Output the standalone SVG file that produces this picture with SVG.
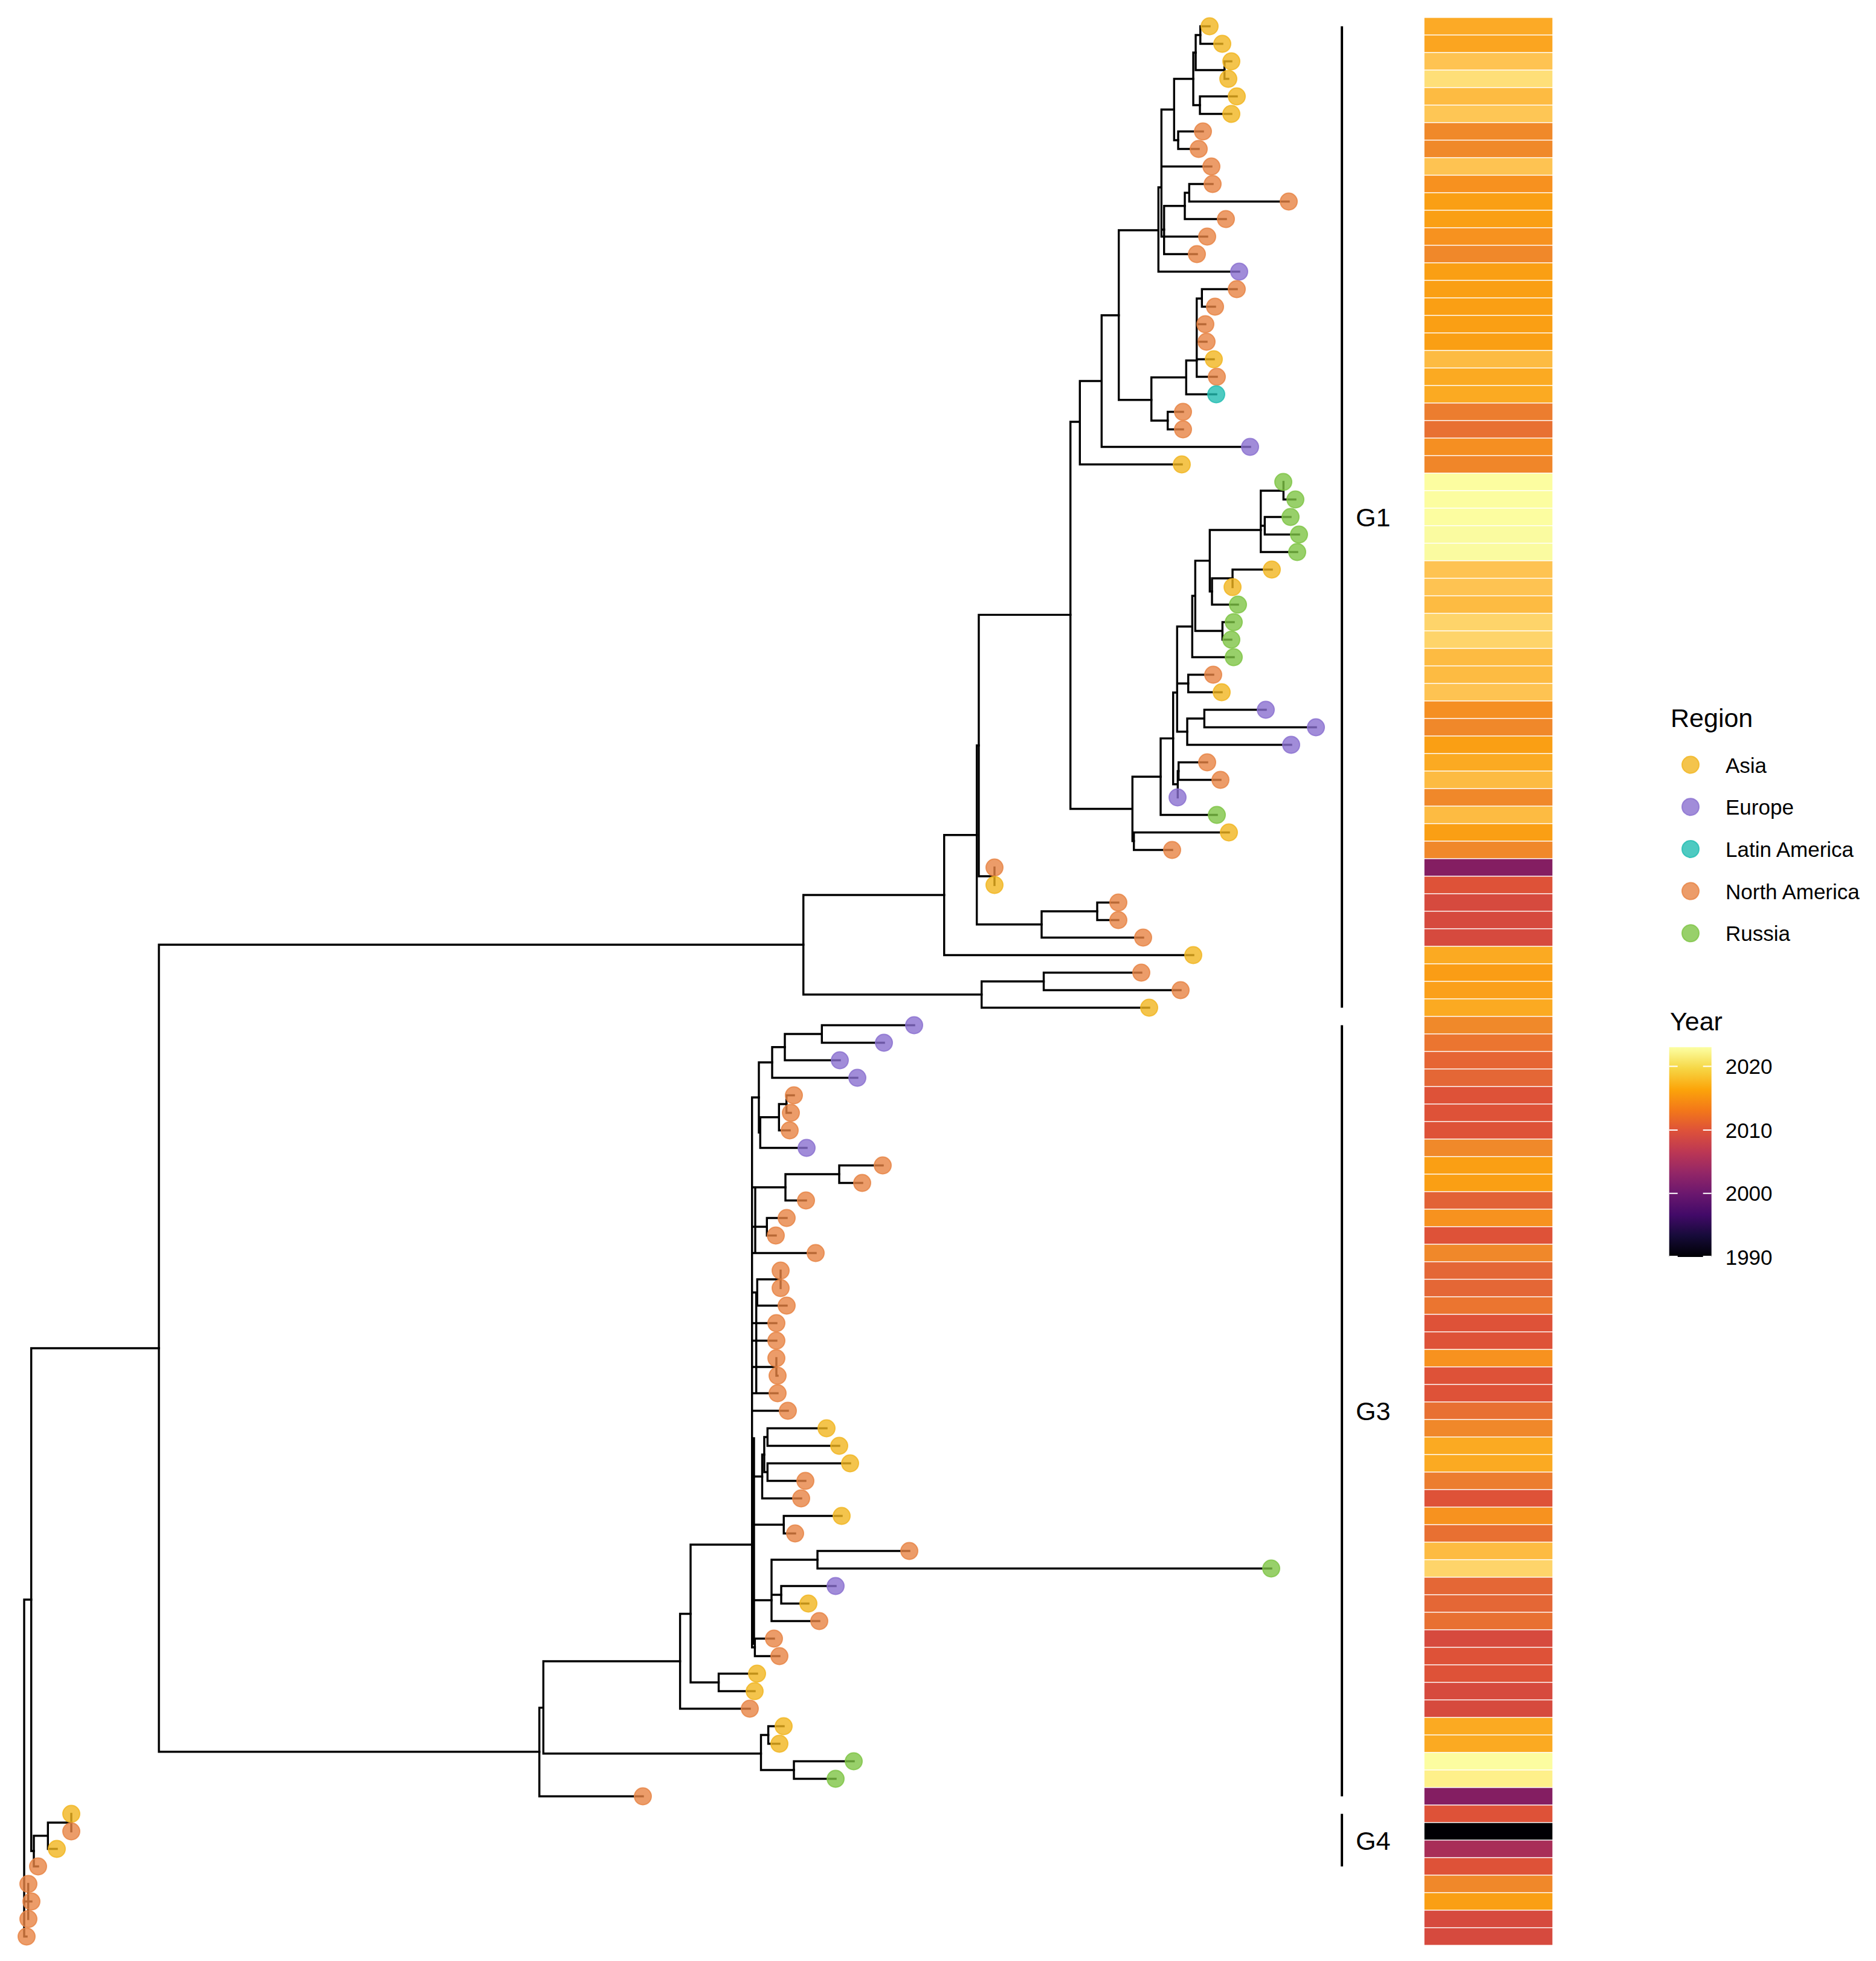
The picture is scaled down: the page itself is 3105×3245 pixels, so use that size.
<svg xmlns="http://www.w3.org/2000/svg" width="3105" height="3245" viewBox="0 0 3105 3245">
<style>
.br{fill:none;stroke:#000;stroke-width:3.4;stroke-linecap:square;stroke-linejoin:miter}
.tp{stroke-width:2;fill-opacity:0.8;stroke-opacity:0.8}
.as{fill:#F1B51F;stroke:#F1B51F}
.eu{fill:#8A6FD0;stroke:#8A6FD0}
.la{fill:#22BDB2;stroke:#22BDB2}
.na{fill:#E78343;stroke:#E78343}
.ru{fill:#7EC445;stroke:#7EC445}
.hm rect{stroke:#fff;stroke-width:1.2}
.bar{stroke:#000;stroke-width:4}
.lab{font-family:"Liberation Sans",Arial,sans-serif;fill:#000}
.tick{stroke:#fff;stroke-width:2}
</style>
<defs>
<linearGradient id="inferno" x1="0" y1="1" x2="0" y2="0">
<stop offset="0" stop-color="#000004"/>
<stop offset="0.1" stop-color="#160B39"/>
<stop offset="0.2" stop-color="#420A68"/>
<stop offset="0.3" stop-color="#6A176E"/>
<stop offset="0.4" stop-color="#932667"/>
<stop offset="0.5" stop-color="#BC3754"/>
<stop offset="0.6" stop-color="#DD513A"/>
<stop offset="0.7" stop-color="#F37819"/>
<stop offset="0.8" stop-color="#FCA50A"/>
<stop offset="0.9" stop-color="#F6D746"/>
<stop offset="1" stop-color="#FCFFA4"/>
</linearGradient>
</defs>
<rect width="3105" height="3245" fill="#fff"/>
<g id="connectors" class="br">
<path d="M51.7,2647H40V3204.5H44M40,3146.5H46.7"/>
<path d="M263,2231H51.7V3063H56"/>
<path d="M79.3,3037.75H56V3088.5H63"/>
<path d="M118,3016H79.3V3059.5H94"/>
<path d="M118,3001.5V3030.5"/>
<path d="M46.7,3117.5V3175.5M46.7,3146.5H52"/>
<path d="M1329.7,1563.3H263V2898.75H892.7"/>
<path d="M1562.7,1481H1329.7V1645.75H1624.7"/>
<path d="M1727.5,1624H1624.7V1667.5H1902"/>
<path d="M1889,1609.5H1727.5V1638.5H1954"/>
<path d="M1616.7,1381.75H1562.7V1580.5H1975"/>
<path d="M1620,1233.5H1616.7V1529.75H1724"/>
<path d="M1816,1508H1724V1551.5H1892"/>
<path d="M1851,1493.5H1816V1522.5H1851"/>
<path d="M1771.7,1017.4H1620V1450H1646"/>
<path d="M1646,1435.5V1464.5"/>
<path d="M1787.3,698H1771.7V1338.5H1874.3"/>
<path d="M1823.3,630.5H1787.3V768.5H1956"/>
<path d="M1851.7,521.75H1823.3V739.5H2069"/>
<path d="M1917.3,381H1851.7V661.75H1905.7"/>
<path d="M1963.3,624.5H1905.7V696H1932.7"/>
<path d="M1958,681.5H1932.7V710.5H1958"/>
<path d="M1980.7,596.5H1963.3V652.5H2013"/>
<path d="M1989.3,494H1980.7V623.5H2014M1980.7,536.5H1995M1980.7,565.5H1997M1980.7,594.5H2009"/>
<path d="M2047,478.5H1989.3V507.5H2011"/>
<path d="M1922.3,310H1917.3V449.5H2051"/>
<path d="M1943.3,181.25H1922.3V391.5H1998M1922.3,275.5H2005M1922.3,380H1926.7"/>
<path d="M1961,340.75H1926.7V420.5H1981"/>
<path d="M1968.3,319H1961V362.5H2029"/>
<path d="M2007,304.5H1968.3V333.5H2133"/>
<path d="M1975,130.5H1943.3V232H1950"/>
<path d="M1991,217.5H1950V246.5H1984"/>
<path d="M1979,87H1975V174H1986"/>
<path d="M2047,159.5H1986V188.5H2038"/>
<path d="M1986.7,58H1979V116H2026.7"/>
<path d="M2002,43.5H1986.7V72.5H2023"/>
<path d="M2038,101.5H2026.7V130.5H2033"/>
<path d="M1921,1285.2H1874.3V1391.75H1876.7"/>
<path d="M2034,1377.5H1876.7V1406.5H1940"/>
<path d="M1941.7,1221.9H1921V1348.5H2014"/>
<path d="M1948.3,1146H1941.7V1297.75H1949.3"/>
<path d="M1950.7,1276H1949.3V1319.5"/>
<path d="M1998,1261.5H1950.7V1290.5H2020"/>
<path d="M1973.3,1036.75H1948.3V1210.75H1965M1948.3,1131H1966.7"/>
<path d="M1993.3,1189H1965V1232.5H2137"/>
<path d="M2095,1174.5H1993.3V1203.5H2178"/>
<path d="M2008,1116.5H1966.7V1145.5H2022"/>
<path d="M1978.3,986H1973.3V1087.5H2042"/>
<path d="M2002.3,927.9H1978.3V1044H2023.3"/>
<path d="M2042,1029.5H2023.3V1058.5H2038"/>
<path d="M2086.7,877H2002.3V978.75H2006"/>
<path d="M2040,957H2006V1000.5H2049"/>
<path d="M2105,942.5H2040V971.5"/>
<path d="M2124.3,812H2086.7V913.5H2147M2086.7,870H2093.3"/>
<path d="M2136,855.5H2093.3V884.5H2150"/>
<path d="M2124.3,797.5V826.5H2144"/>
<path d="M899.3,2825.9H892.7V2972.5H1064"/>
<path d="M1125.6,2749H899.3V2901.7H1259.5"/>
<path d="M1271.6,2871H1259.5V2929H1314"/>
<path d="M1297,2856.5H1271.6V2885.5H1290"/>
<path d="M1413,2914.5H1314V2943.5H1383"/>
<path d="M1143,2670.5H1125.6V2827.5H1241"/>
<path d="M1244.7,2556H1143V2784H1189.5"/>
<path d="M1253,2769.5H1189.5V2798.5H1249"/>
<path d="M1256,1816H1244.7V2726H1249.4M1244.7,1964.75H1300M1244.7,2030H1269.3M1244.7,2073.5H1350M1244.7,2138.75H1253.3M1244.7,2189.5H1285M1244.7,2218.5H1285M1244.7,2262H1285M1244.7,2305.5H1287M1244.7,2334.5H1304M1244.7,2443.25H1261.5M1244.7,2523H1297.2M1244.7,2648H1277M1250,1964.75V2073.5M1251.7,2138.75V2305.5M1248,2380V2720"/>
<path d="M1278,1758H1256V1874H1258.3"/>
<path d="M1299,1732.75H1278V1783.5H1419"/>
<path d="M1360.3,1711H1299V1754.5H1390"/>
<path d="M1513,1696.5H1360.3V1725.5H1463"/>
<path d="M1289.3,1848.75H1258.3V1899.5H1335"/>
<path d="M1301.7,1827H1289.3V1870.5H1307"/>
<path d="M1314,1812.5H1301.7V1841.5H1309"/>
<path d="M1389,1943H1300V1986.5H1334"/>
<path d="M1461,1928.5H1389V1957.5H1427"/>
<path d="M1302,2015.5H1269.3V2044.5H1284"/>
<path d="M1292,2117H1253.3V2160.5H1302"/>
<path d="M1292,2102.5V2131.5"/>
<path d="M1285,2247.5V2276.5H1287"/>
<path d="M1264.9,2407H1261.5V2479.5H1326"/>
<path d="M1270.3,2378H1264.9V2436H1270.3"/>
<path d="M1368,2363.5H1270.3V2392.5H1389"/>
<path d="M1407,2421.5H1270.3V2450.5H1333"/>
<path d="M1393,2508.5H1297.2V2537.5H1316"/>
<path d="M1353,2581H1277V2682.5H1356M1277,2639H1293"/>
<path d="M1505,2566.5H1353V2595.5H2104"/>
<path d="M1383,2624.5H1293V2653.5H1338"/>
<path d="M1281,2711.5H1249.4V2740.5H1290"/>
</g>
<g id="tips" class="tp">
<g id="tip-0"><circle class="as" cx="2002" cy="43.5" r="14"/></g>
<g id="tip-1"><circle class="as" cx="2023" cy="72.5" r="14"/></g>
<g id="tip-2"><circle class="as" cx="2038" cy="101.5" r="14"/></g>
<g id="tip-3"><circle class="as" cx="2033" cy="130.5" r="14"/></g>
<g id="tip-4"><circle class="as" cx="2047" cy="159.5" r="14"/></g>
<g id="tip-5"><circle class="as" cx="2038" cy="188.5" r="14"/></g>
<g id="tip-6"><circle class="na" cx="1991" cy="217.5" r="14"/></g>
<g id="tip-7"><circle class="na" cx="1984" cy="246.5" r="14"/></g>
<g id="tip-8"><circle class="na" cx="2005" cy="275.5" r="14"/></g>
<g id="tip-9"><circle class="na" cx="2007" cy="304.5" r="14"/></g>
<g id="tip-10"><circle class="na" cx="2133" cy="333.5" r="14"/></g>
<g id="tip-11"><circle class="na" cx="2029" cy="362.5" r="14"/></g>
<g id="tip-12"><circle class="na" cx="1998" cy="391.5" r="14"/></g>
<g id="tip-13"><circle class="na" cx="1981" cy="420.5" r="14"/></g>
<g id="tip-14"><circle class="eu" cx="2051" cy="449.5" r="14"/></g>
<g id="tip-15"><circle class="na" cx="2047" cy="478.5" r="14"/></g>
<g id="tip-16"><circle class="na" cx="2011" cy="507.5" r="14"/></g>
<g id="tip-17"><circle class="na" cx="1995" cy="536.5" r="14"/></g>
<g id="tip-18"><circle class="na" cx="1997" cy="565.5" r="14"/></g>
<g id="tip-19"><circle class="as" cx="2009" cy="594.5" r="14"/></g>
<g id="tip-20"><circle class="na" cx="2014" cy="623.5" r="14"/></g>
<g id="tip-21"><circle class="la" cx="2013" cy="652.5" r="14"/></g>
<g id="tip-22"><circle class="na" cx="1958" cy="681.5" r="14"/></g>
<g id="tip-23"><circle class="na" cx="1958" cy="710.5" r="14"/></g>
<g id="tip-24"><circle class="eu" cx="2069" cy="739.5" r="14"/></g>
<g id="tip-25"><circle class="as" cx="1956" cy="768.5" r="14"/></g>
<g id="tip-26"><circle class="ru" cx="2124" cy="797.5" r="14"/></g>
<g id="tip-27"><circle class="ru" cx="2144" cy="826.5" r="14"/></g>
<g id="tip-28"><circle class="ru" cx="2136" cy="855.5" r="14"/></g>
<g id="tip-29"><circle class="ru" cx="2150" cy="884.5" r="14"/></g>
<g id="tip-30"><circle class="ru" cx="2147" cy="913.5" r="14"/></g>
<g id="tip-31"><circle class="as" cx="2105" cy="942.5" r="14"/></g>
<g id="tip-32"><circle class="as" cx="2040" cy="971.5" r="14"/></g>
<g id="tip-33"><circle class="ru" cx="2049" cy="1000.5" r="14"/></g>
<g id="tip-34"><circle class="ru" cx="2042" cy="1029.5" r="14"/></g>
<g id="tip-35"><circle class="ru" cx="2038" cy="1058.5" r="14"/></g>
<g id="tip-36"><circle class="ru" cx="2042" cy="1087.5" r="14"/></g>
<g id="tip-37"><circle class="na" cx="2008" cy="1116.5" r="14"/></g>
<g id="tip-38"><circle class="as" cx="2022" cy="1145.5" r="14"/></g>
<g id="tip-39"><circle class="eu" cx="2095" cy="1174.5" r="14"/></g>
<g id="tip-40"><circle class="eu" cx="2178" cy="1203.5" r="14"/></g>
<g id="tip-41"><circle class="eu" cx="2137" cy="1232.5" r="14"/></g>
<g id="tip-42"><circle class="na" cx="1998" cy="1261.5" r="14"/></g>
<g id="tip-43"><circle class="na" cx="2020" cy="1290.5" r="14"/></g>
<g id="tip-44"><circle class="eu" cx="1949" cy="1319.5" r="14"/></g>
<g id="tip-45"><circle class="ru" cx="2014" cy="1348.5" r="14"/></g>
<g id="tip-46"><circle class="as" cx="2034" cy="1377.5" r="14"/></g>
<g id="tip-47"><circle class="na" cx="1940" cy="1406.5" r="14"/></g>
<g id="tip-48"><circle class="na" cx="1646" cy="1435.5" r="14"/></g>
<g id="tip-49"><circle class="as" cx="1646" cy="1464.5" r="14"/></g>
<g id="tip-50"><circle class="na" cx="1851" cy="1493.5" r="14"/></g>
<g id="tip-51"><circle class="na" cx="1851" cy="1522.5" r="14"/></g>
<g id="tip-52"><circle class="na" cx="1892" cy="1551.5" r="14"/></g>
<g id="tip-53"><circle class="as" cx="1975" cy="1580.5" r="14"/></g>
<g id="tip-54"><circle class="na" cx="1889" cy="1609.5" r="14"/></g>
<g id="tip-55"><circle class="na" cx="1954" cy="1638.5" r="14"/></g>
<g id="tip-56"><circle class="as" cx="1902" cy="1667.5" r="14"/></g>
<g id="tip-57"><circle class="eu" cx="1513" cy="1696.5" r="14"/></g>
<g id="tip-58"><circle class="eu" cx="1463" cy="1725.5" r="14"/></g>
<g id="tip-59"><circle class="eu" cx="1390" cy="1754.5" r="14"/></g>
<g id="tip-60"><circle class="eu" cx="1419" cy="1783.5" r="14"/></g>
<g id="tip-61"><circle class="na" cx="1314" cy="1812.5" r="14"/></g>
<g id="tip-62"><circle class="na" cx="1309" cy="1841.5" r="14"/></g>
<g id="tip-63"><circle class="na" cx="1307" cy="1870.5" r="14"/></g>
<g id="tip-64"><circle class="eu" cx="1335" cy="1899.5" r="14"/></g>
<g id="tip-65"><circle class="na" cx="1461" cy="1928.5" r="14"/></g>
<g id="tip-66"><circle class="na" cx="1427" cy="1957.5" r="14"/></g>
<g id="tip-67"><circle class="na" cx="1334" cy="1986.5" r="14"/></g>
<g id="tip-68"><circle class="na" cx="1302" cy="2015.5" r="14"/></g>
<g id="tip-69"><circle class="na" cx="1284" cy="2044.5" r="14"/></g>
<g id="tip-70"><circle class="na" cx="1350" cy="2073.5" r="14"/></g>
<g id="tip-71"><circle class="na" cx="1292" cy="2102.5" r="14"/></g>
<g id="tip-72"><circle class="na" cx="1292" cy="2131.5" r="14"/></g>
<g id="tip-73"><circle class="na" cx="1302" cy="2160.5" r="14"/></g>
<g id="tip-74"><circle class="na" cx="1285" cy="2189.5" r="14"/></g>
<g id="tip-75"><circle class="na" cx="1285" cy="2218.5" r="14"/></g>
<g id="tip-76"><circle class="na" cx="1285" cy="2247.5" r="14"/></g>
<g id="tip-77"><circle class="na" cx="1287" cy="2276.5" r="14"/></g>
<g id="tip-78"><circle class="na" cx="1287" cy="2305.5" r="14"/></g>
<g id="tip-79"><circle class="na" cx="1304" cy="2334.5" r="14"/></g>
<g id="tip-80"><circle class="as" cx="1368" cy="2363.5" r="14"/></g>
<g id="tip-81"><circle class="as" cx="1389" cy="2392.5" r="14"/></g>
<g id="tip-82"><circle class="as" cx="1407" cy="2421.5" r="14"/></g>
<g id="tip-83"><circle class="na" cx="1333" cy="2450.5" r="14"/></g>
<g id="tip-84"><circle class="na" cx="1326" cy="2479.5" r="14"/></g>
<g id="tip-85"><circle class="as" cx="1393" cy="2508.5" r="14"/></g>
<g id="tip-86"><circle class="na" cx="1316" cy="2537.5" r="14"/></g>
<g id="tip-87"><circle class="na" cx="1505" cy="2566.5" r="14"/></g>
<g id="tip-88"><circle class="ru" cx="2104" cy="2595.5" r="14"/></g>
<g id="tip-89"><circle class="eu" cx="1383" cy="2624.5" r="14"/></g>
<g id="tip-90"><circle class="as" cx="1338" cy="2653.5" r="14"/></g>
<g id="tip-91"><circle class="na" cx="1356" cy="2682.5" r="14"/></g>
<g id="tip-92"><circle class="na" cx="1281" cy="2711.5" r="14"/></g>
<g id="tip-93"><circle class="na" cx="1290" cy="2740.5" r="14"/></g>
<g id="tip-94"><circle class="as" cx="1253" cy="2769.5" r="14"/></g>
<g id="tip-95"><circle class="as" cx="1249" cy="2798.5" r="14"/></g>
<g id="tip-96"><circle class="na" cx="1241" cy="2827.5" r="14"/></g>
<g id="tip-97"><circle class="as" cx="1297" cy="2856.5" r="14"/></g>
<g id="tip-98"><circle class="as" cx="1290" cy="2885.5" r="14"/></g>
<g id="tip-99"><circle class="ru" cx="1413" cy="2914.5" r="14"/></g>
<g id="tip-100"><circle class="ru" cx="1383" cy="2943.5" r="14"/></g>
<g id="tip-101"><circle class="na" cx="1064" cy="2972.5" r="14"/></g>
<g id="tip-102"><circle class="as" cx="118" cy="3001.5" r="14"/></g>
<g id="tip-103"><circle class="na" cx="118" cy="3030.5" r="14"/></g>
<g id="tip-104"><circle class="as" cx="94" cy="3059.5" r="14"/></g>
<g id="tip-105"><circle class="na" cx="63" cy="3088.5" r="14"/></g>
<g id="tip-106"><circle class="na" cx="47" cy="3117.5" r="14"/></g>
<g id="tip-107"><circle class="na" cx="52" cy="3146.5" r="14"/></g>
<g id="tip-108"><circle class="na" cx="47" cy="3175.5" r="14"/></g>
<g id="tip-109"><circle class="na" cx="44" cy="3204.5" r="14"/></g>
</g>
<g id="clades">
<line class="bar" x1="2221" y1="43.5" x2="2221" y2="1667.5"/>
<line class="bar" x1="2221" y1="1696.5" x2="2221" y2="2972.5"/>
<line class="bar" x1="2221" y1="3001.5" x2="2221" y2="3088.5"/>
<text class="lab" x="2244" y="871" font-size="43">G1</text>
<text class="lab" x="2244" y="2350" font-size="43">G3</text>
<text class="lab" x="2244" y="3061" font-size="43">G4</text>
</g>
<g id="heatmap" class="hm">
<rect x="2357" y="29" width="213" height="29" fill="#FCAA26"/>
<rect x="2357" y="58" width="213" height="29" fill="#FBA520"/>
<rect x="2357" y="87" width="213" height="29" fill="#FEC352"/>
<rect x="2357" y="116" width="213" height="29" fill="#FEDF78"/>
<rect x="2357" y="145" width="213" height="29" fill="#FDBB42"/>
<rect x="2357" y="174" width="213" height="29" fill="#FEC655"/>
<rect x="2357" y="203" width="213" height="29" fill="#F0892A"/>
<rect x="2357" y="232" width="213" height="29" fill="#F0892A"/>
<rect x="2357" y="261" width="213" height="29" fill="#FEC352"/>
<rect x="2357" y="290" width="213" height="29" fill="#F7911F"/>
<rect x="2357" y="319" width="213" height="29" fill="#FA9F14"/>
<rect x="2357" y="348" width="213" height="29" fill="#FA9F14"/>
<rect x="2357" y="377" width="213" height="29" fill="#F7921F"/>
<rect x="2357" y="406" width="213" height="29" fill="#F0882A"/>
<rect x="2357" y="435" width="213" height="29" fill="#FA9F14"/>
<rect x="2357" y="464" width="213" height="29" fill="#FA9F14"/>
<rect x="2357" y="493" width="213" height="29" fill="#FA9F14"/>
<rect x="2357" y="522" width="213" height="29" fill="#FA9F14"/>
<rect x="2357" y="551" width="213" height="29" fill="#FA9F14"/>
<rect x="2357" y="580" width="213" height="29" fill="#FDBB42"/>
<rect x="2357" y="609" width="213" height="29" fill="#FBAA22"/>
<rect x="2357" y="638" width="213" height="29" fill="#FBAA22"/>
<rect x="2357" y="667" width="213" height="29" fill="#EC7D2F"/>
<rect x="2357" y="696" width="213" height="29" fill="#E87032"/>
<rect x="2357" y="725" width="213" height="29" fill="#F58F22"/>
<rect x="2357" y="754" width="213" height="29" fill="#F08629"/>
<rect x="2357" y="783" width="213" height="29" fill="#FCFDA0"/>
<rect x="2357" y="812" width="213" height="29" fill="#FCFDA0"/>
<rect x="2357" y="841" width="213" height="29" fill="#FCFDA0"/>
<rect x="2357" y="870" width="213" height="29" fill="#FAFBA0"/>
<rect x="2357" y="899" width="213" height="29" fill="#FAFBA0"/>
<rect x="2357" y="928" width="213" height="29" fill="#FEC352"/>
<rect x="2357" y="957" width="213" height="29" fill="#FEC352"/>
<rect x="2357" y="986" width="213" height="29" fill="#FDBB42"/>
<rect x="2357" y="1015" width="213" height="29" fill="#FED46A"/>
<rect x="2357" y="1044" width="213" height="29" fill="#FED46A"/>
<rect x="2357" y="1073" width="213" height="29" fill="#FDBB42"/>
<rect x="2357" y="1102" width="213" height="29" fill="#FDBB42"/>
<rect x="2357" y="1131" width="213" height="29" fill="#FEC352"/>
<rect x="2357" y="1160" width="213" height="29" fill="#F58F22"/>
<rect x="2357" y="1189" width="213" height="29" fill="#F0882A"/>
<rect x="2357" y="1218" width="213" height="29" fill="#FA9F14"/>
<rect x="2357" y="1247" width="213" height="29" fill="#FBAA22"/>
<rect x="2357" y="1276" width="213" height="29" fill="#FDBB42"/>
<rect x="2357" y="1305" width="213" height="29" fill="#F0882A"/>
<rect x="2357" y="1334" width="213" height="29" fill="#FDBB42"/>
<rect x="2357" y="1363" width="213" height="29" fill="#FA9F14"/>
<rect x="2357" y="1392" width="213" height="29" fill="#F0882A"/>
<rect x="2357" y="1421" width="213" height="29" fill="#841E62"/>
<rect x="2357" y="1450" width="213" height="29" fill="#DE5238"/>
<rect x="2357" y="1479" width="213" height="29" fill="#D64A3E"/>
<rect x="2357" y="1508" width="213" height="29" fill="#D64A3E"/>
<rect x="2357" y="1537" width="213" height="29" fill="#D64A3E"/>
<rect x="2357" y="1566" width="213" height="29" fill="#FBAA22"/>
<rect x="2357" y="1595" width="213" height="29" fill="#FA9D15"/>
<rect x="2357" y="1624" width="213" height="29" fill="#FBA01A"/>
<rect x="2357" y="1653" width="213" height="29" fill="#FBAA22"/>
<rect x="2357" y="1682" width="213" height="29" fill="#F0892A"/>
<rect x="2357" y="1711" width="213" height="29" fill="#EB7530"/>
<rect x="2357" y="1740" width="213" height="29" fill="#E66534"/>
<rect x="2357" y="1769" width="213" height="29" fill="#E46736"/>
<rect x="2357" y="1798" width="213" height="29" fill="#DE5238"/>
<rect x="2357" y="1827" width="213" height="29" fill="#DE5238"/>
<rect x="2357" y="1856" width="213" height="29" fill="#DE5238"/>
<rect x="2357" y="1885" width="213" height="29" fill="#F0892A"/>
<rect x="2357" y="1914" width="213" height="29" fill="#FA9F14"/>
<rect x="2357" y="1943" width="213" height="29" fill="#FA9F14"/>
<rect x="2357" y="1972" width="213" height="29" fill="#E26236"/>
<rect x="2357" y="2001" width="213" height="29" fill="#F7921F"/>
<rect x="2357" y="2030" width="213" height="29" fill="#DE5238"/>
<rect x="2357" y="2059" width="213" height="29" fill="#F0882A"/>
<rect x="2357" y="2088" width="213" height="29" fill="#E46736"/>
<rect x="2357" y="2117" width="213" height="29" fill="#E46736"/>
<rect x="2357" y="2146" width="213" height="29" fill="#EB7530"/>
<rect x="2357" y="2175" width="213" height="29" fill="#DE5238"/>
<rect x="2357" y="2204" width="213" height="29" fill="#DE5238"/>
<rect x="2357" y="2233" width="213" height="29" fill="#F7921F"/>
<rect x="2357" y="2262" width="213" height="29" fill="#DE5238"/>
<rect x="2357" y="2291" width="213" height="29" fill="#DE5238"/>
<rect x="2357" y="2320" width="213" height="29" fill="#E87032"/>
<rect x="2357" y="2349" width="213" height="29" fill="#F0882A"/>
<rect x="2357" y="2378" width="213" height="29" fill="#FBAA22"/>
<rect x="2357" y="2407" width="213" height="29" fill="#FBAA22"/>
<rect x="2357" y="2436" width="213" height="29" fill="#EC7D2F"/>
<rect x="2357" y="2465" width="213" height="29" fill="#DE5238"/>
<rect x="2357" y="2494" width="213" height="29" fill="#F7921F"/>
<rect x="2357" y="2523" width="213" height="29" fill="#E87032"/>
<rect x="2357" y="2552" width="213" height="29" fill="#FDBB42"/>
<rect x="2357" y="2581" width="213" height="29" fill="#FED46A"/>
<rect x="2357" y="2610" width="213" height="29" fill="#E46736"/>
<rect x="2357" y="2639" width="213" height="29" fill="#E46736"/>
<rect x="2357" y="2668" width="213" height="29" fill="#E87032"/>
<rect x="2357" y="2697" width="213" height="29" fill="#D64A3E"/>
<rect x="2357" y="2726" width="213" height="29" fill="#DE5238"/>
<rect x="2357" y="2755" width="213" height="29" fill="#DE5238"/>
<rect x="2357" y="2784" width="213" height="29" fill="#D64A3E"/>
<rect x="2357" y="2813" width="213" height="29" fill="#D64A3E"/>
<rect x="2357" y="2842" width="213" height="29" fill="#FBAA22"/>
<rect x="2357" y="2871" width="213" height="29" fill="#FBAA22"/>
<rect x="2357" y="2900" width="213" height="29" fill="#FCFDA0"/>
<rect x="2357" y="2929" width="213" height="29" fill="#FEF08A"/>
<rect x="2357" y="2958" width="213" height="29" fill="#841E62"/>
<rect x="2357" y="2987" width="213" height="29" fill="#DE5238"/>
<rect x="2357" y="3016" width="213" height="29" fill="#000004"/>
<rect x="2357" y="3045" width="213" height="29" fill="#A82E58"/>
<rect x="2357" y="3074" width="213" height="29" fill="#DE5238"/>
<rect x="2357" y="3103" width="213" height="29" fill="#F0882A"/>
<rect x="2357" y="3132" width="213" height="29" fill="#FA9F14"/>
<rect x="2357" y="3161" width="213" height="29" fill="#D64A3E"/>
<rect x="2357" y="3190" width="213" height="29" fill="#D64A3E"/>
</g>
<g id="legend-region">
<text class="lab" x="2765" y="1203" font-size="43">Region</text>
<g class="tp">
<circle class="as" cx="2798" cy="1265.5" r="14"/>
<circle class="eu" cx="2798" cy="1335.2" r="14"/>
<circle class="la" cx="2798" cy="1404.9" r="14"/>
<circle class="na" cx="2798" cy="1474.6" r="14"/>
<circle class="ru" cx="2798" cy="1544.3" r="14"/>
</g>
<text class="lab" x="2856" y="1278.5" font-size="35">Asia</text>
<text class="lab" x="2856" y="1348.2" font-size="35">Europe</text>
<text class="lab" x="2856" y="1417.9" font-size="35">Latin America</text>
<text class="lab" x="2856" y="1487.6" font-size="35">North America</text>
<text class="lab" x="2856" y="1557.3" font-size="35">Russia</text>
</g>
<g id="legend-year">
<text class="lab" x="2764" y="1704.5" font-size="43">Year</text>
<rect x="2762.7" y="1732.8" width="70" height="347.2" fill="url(#inferno)"/>
<path class="tick" d="M2762.7,1764.6h14M2818.7,1764.6h14M2762.7,1869.9h14M2818.7,1869.9h14M2762.7,1974.7h14M2818.7,1974.7h14M2762.7,2079h14M2818.7,2079h14"/>
<text class="lab" x="2855.7" y="1777.2" font-size="35">2020</text>
<text class="lab" x="2855.7" y="1882.5" font-size="35">2010</text>
<text class="lab" x="2855.7" y="1987.3" font-size="35">2000</text>
<text class="lab" x="2855.7" y="2092.5" font-size="35">1990</text>
</g>
</svg>
